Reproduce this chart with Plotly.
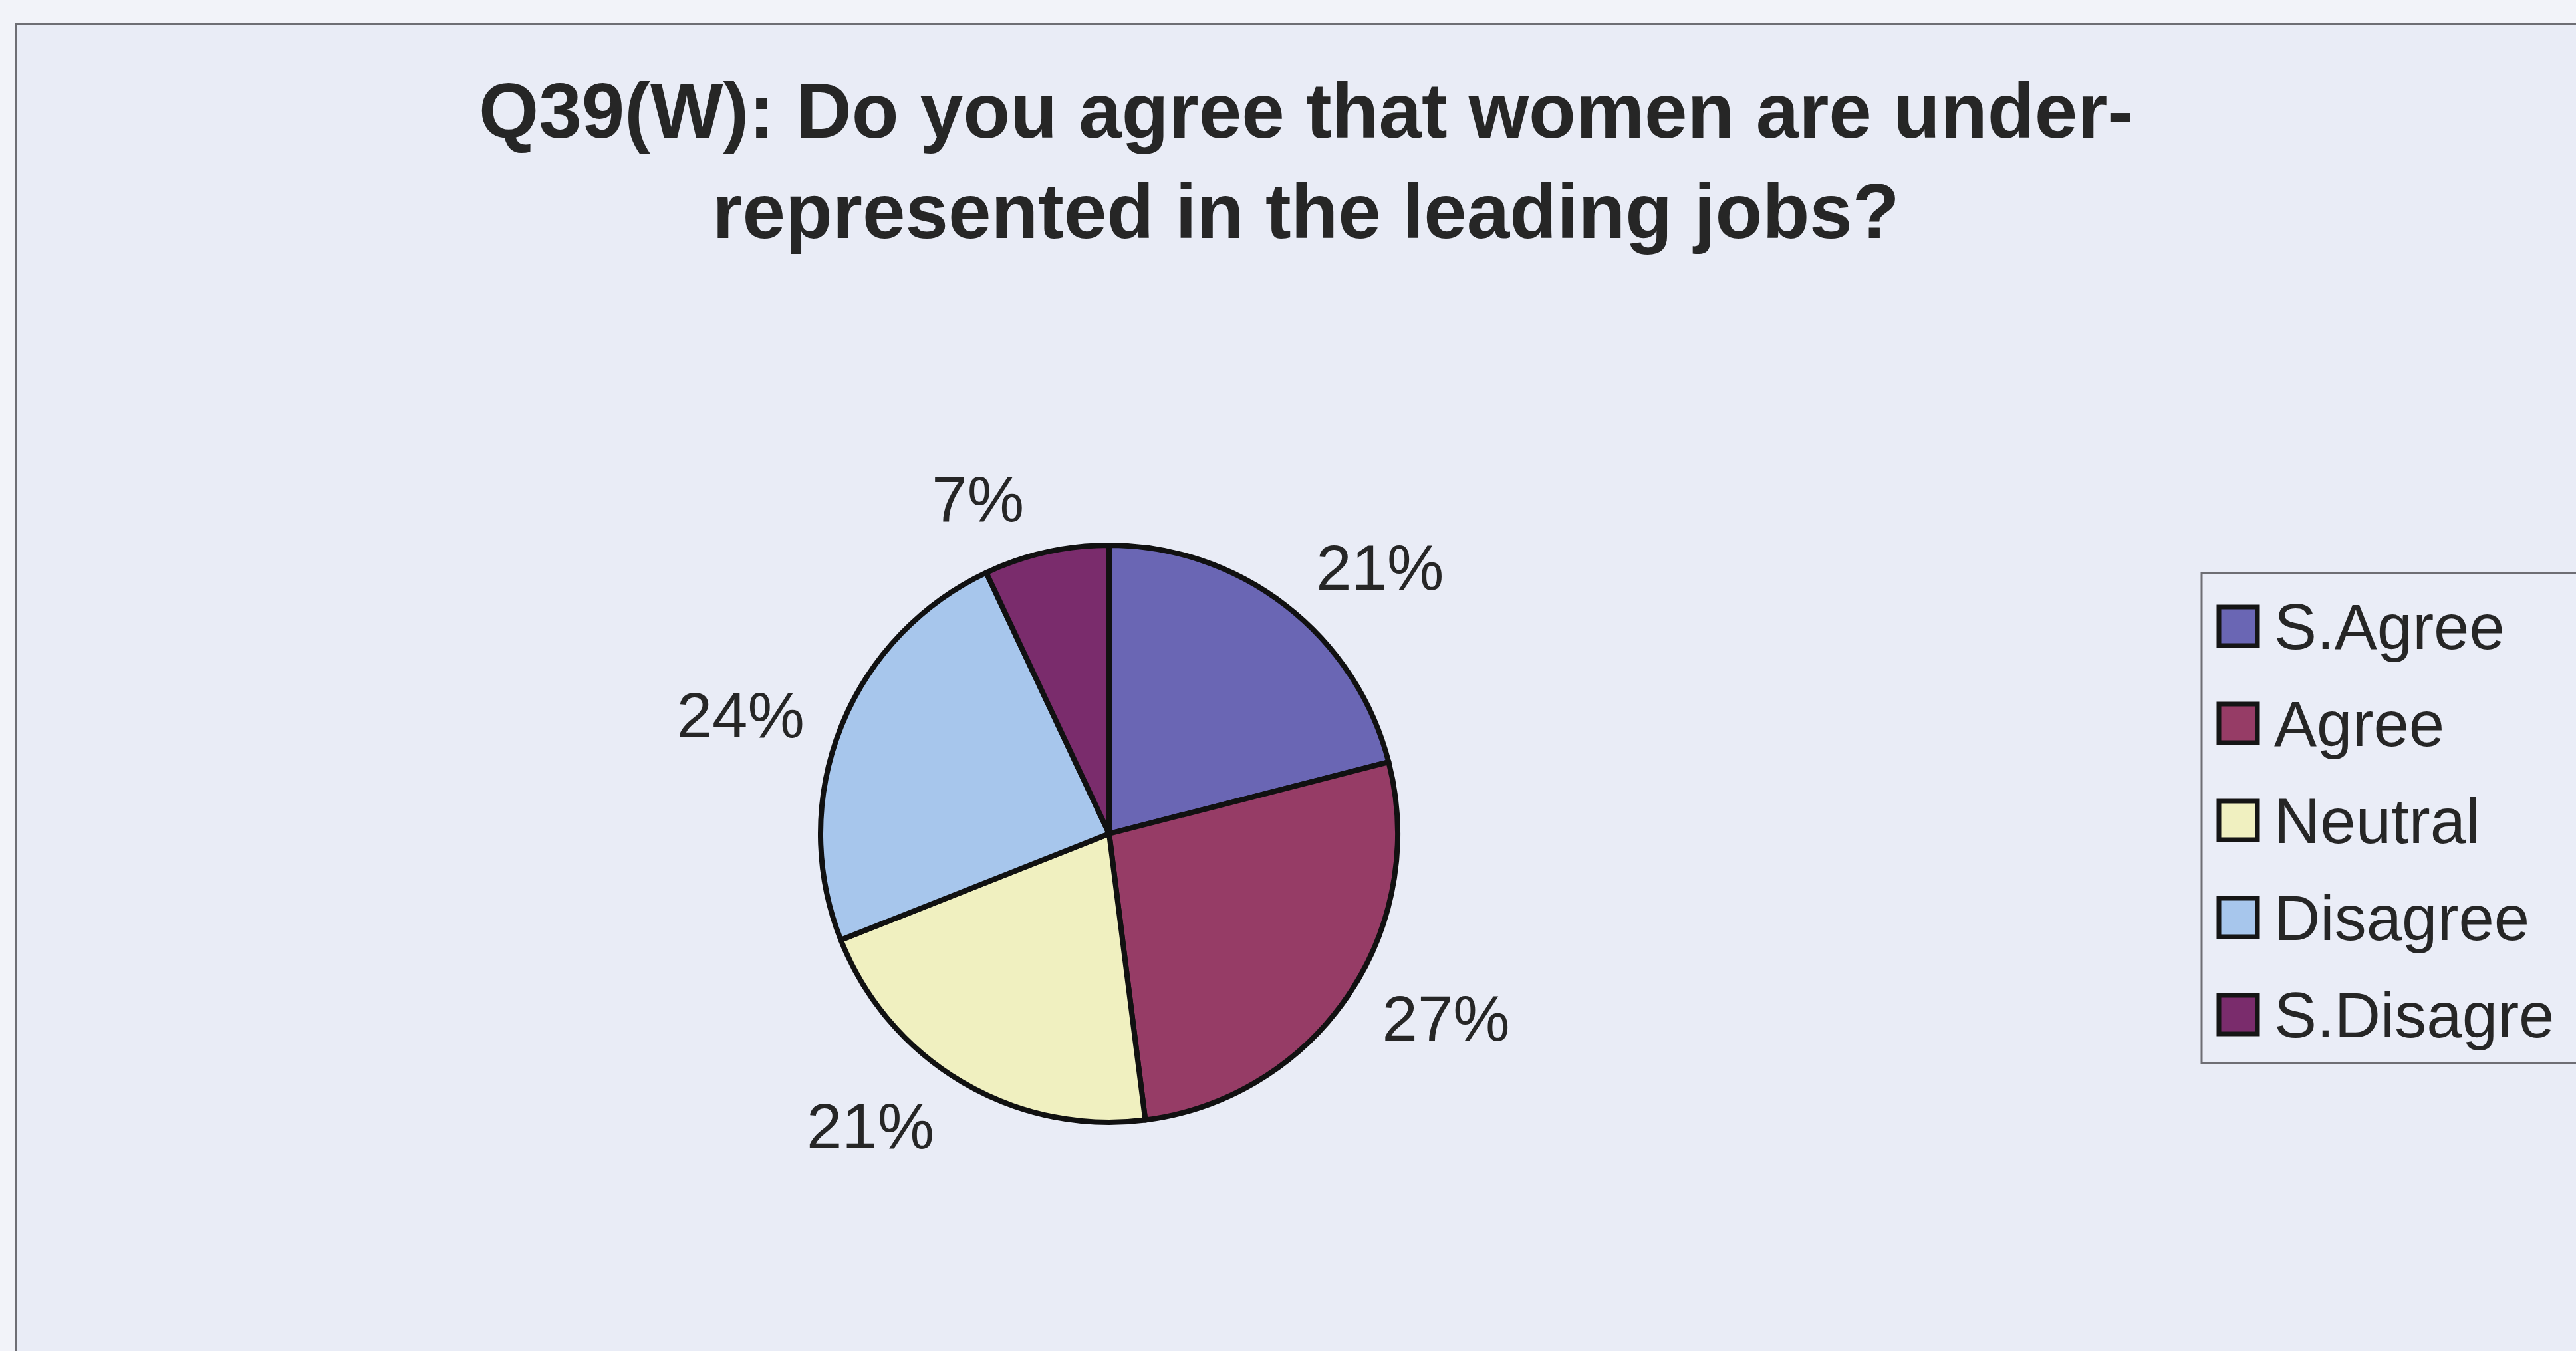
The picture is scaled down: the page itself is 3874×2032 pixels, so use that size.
import plotly.graph_objects as go

W, H = 3874, 2032

categories = ["S.Agree", "Agree", "Neutral", "Disagree", "S.Disagre"]
values = [21, 27, 21, 24, 7]
colors = ["#6A66B4", "#963C66", "#F0F0C0", "#A7C6EC", "#7A2C6C"]
title_text = "Q39(W): Do you agree that women are under-<br>represented in the leading jobs?"

FONT = "Liberation Sans, Arial, sans-serif"
TXT = "#262626"

def px_x(p):
    return p / W

def px_y(p):
    return 1 - p / H

def dom(cx, cy, r):
    return dict(x=[px_x(cx - r), px_x(cx + r)], y=[px_y(cy + r), px_y(cy - r)])

fig = go.Figure()

cx, cy, r = 1668, 1254, 434
# label-carrying pie (transparent, slightly larger so labels sit further out)
fig.add_trace(go.Pie(
    labels=categories,
    values=values,
    sort=False,
    direction="clockwise",
    rotation=0,
    marker=dict(colors=["rgba(0,0,0,0)"] * len(values), line=dict(width=0)),
    textinfo="percent",
    textposition="outside",
    outsidetextfont=dict(family=FONT, size=96, color=TXT),
    showlegend=False,
    hoverinfo="skip",
    domain=dom(cx, cy, r + 30),
))
# visible pie
fig.add_trace(go.Pie(
    labels=categories,
    values=values,
    sort=False,
    direction="clockwise",
    rotation=0,
    marker=dict(colors=colors, line=dict(color="#111111", width=8)),
    textinfo="none",
    showlegend=False,
    domain=dom(cx, cy, r),
))

shapes = []
# chart frame
shapes.append(dict(type="rect", xref="paper", yref="paper",
                   x0=px_x(24), x1=1.02, y0=-0.02, y1=px_y(36),
                   line=dict(color="#6E6E74", width=4), fillcolor="#E9ECF6", layer="below"))
# legend box
lg_left, lg_top, lg_bot = 3311, 862, 1599
shapes.append(dict(type="rect", xref="paper", yref="paper",
                   x0=px_x(lg_left), x1=1.02, y0=px_y(lg_bot), y1=px_y(lg_top),
                   line=dict(color="#6E6E74", width=3), fillcolor="#EAEDF7", layer="below"))

annotations = []
item_y0, item_step = 942, 146
sw_cx, sw = 3366, 58
for i, (cat, col) in enumerate(zip(categories, colors)):
    yc = item_y0 + i * item_step
    shapes.append(dict(type="rect", xref="paper", yref="paper",
                       x0=px_x(sw_cx - sw / 2), x1=px_x(sw_cx + sw / 2),
                       y0=px_y(yc + sw / 2), y1=px_y(yc - sw / 2),
                       line=dict(color="#151515", width=7), fillcolor=col))
    annotations.append(dict(xref="paper", yref="paper", x=px_x(3418), y=px_y(yc),
                            xanchor="left", yanchor="middle", showarrow=False,
                            text=cat, font=dict(family=FONT, size=96, color=TXT)))

fig.update_layout(
    width=W, height=H,
    margin=dict(l=0, r=0, t=0, b=0),
    paper_bgcolor="#F2F3F9",
    plot_bgcolor="#F2F3F9",
    title=dict(text="<b>" + title_text.replace("<br>", "</b><br><b>") + "</b>",
               x=px_x(1964), xanchor="center",
               y=px_y(207), yanchor="middle", yref="container",
               font=dict(family=FONT, size=116, color=TXT)),
    shapes=shapes,
    annotations=annotations,
)

fig.write_html("out.html")
